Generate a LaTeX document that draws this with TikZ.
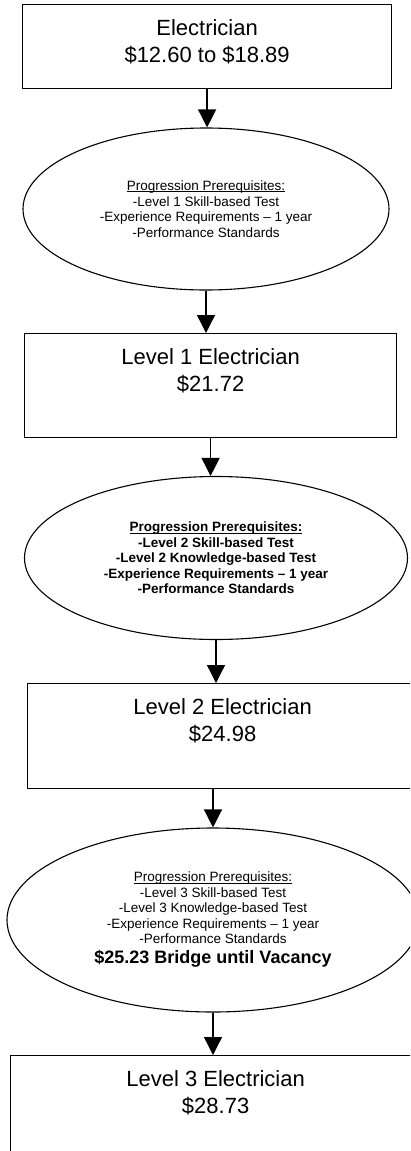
\documentclass[tikz,border=0pt]{standalone}
\usepackage{fontspec}
\setmainfont{Liberation Sans}
\usepackage{tikz}
\usetikzlibrary{arrows.meta, shapes.geometric}
\newcommand{\reqhead}[1]{\setbox0\hbox{#1}\rlap{\rule[-1.6pt]{\wd0}{0.8pt}}\box0}
\tikzstyle{jobbox}=[rectangle, draw=black, line width=1.2pt, inner sep=0pt, anchor=north west]
\tikzstyle{jobtext}=[align=center, inner sep=0pt, anchor=north, font=\fontsize{22}{27}\selectfont]
\tikzstyle{reqoval}=[ellipse, draw=black, line width=1.1pt, align=center, inner sep=0pt, font=\fontsize{13.5}{15.5}\selectfont]
\tikzstyle{flow}=[draw=black, line width=1.3pt, -{Triangle[width=18pt,length=18pt]}]

\begin{document}
\begin{tikzpicture}[x=1pt, y=-1pt]
		\useasboundingbox (0,0) rectangle (410,1151);
		\clip (0,0) rectangle (410,1151);
		% job boxes
		\node[jobbox, minimum width=369, minimum height=84](job1) at (22,4) {};
		\node[jobbox, minimum width=372, minimum height=104](job2) at (24,333) {};
		\node[jobbox, minimum width=390, minimum height=105](job3) at (27,683) {};
		\node[jobbox, minimum width=410, minimum height=130](job4) at (10,1055) {};
		\node[jobtext](name1) at ([yshift=-15pt]job1.north) {Electrician\\\$12.60 to \$18.89};
		\node[jobtext](name2) at ([yshift=-15pt]job2.north) {Level 1 Electrician\\\$21.72};
		\node[jobtext](name3) at ([yshift=-15pt]job3.north) {Level 2 Electrician\\\$24.98};
		\node[jobtext](name4) at ([yshift=-15pt]job4.north) {Level 3 Electrician\\\$28.73};
		% prerequisites
		\node[reqoval, minimum width=366, minimum height=162](req1) at (206,209)
			{\reqhead{Progression Prerequisites:}\\-Level 1 Skill-based Test\\-Experience Requirements -- 1 year\\-Performance Standards};
		\node[reqoval, minimum width=383, minimum height=163, font=\fontsize{13.5}{15.5}\selectfont\bfseries](req2) at (216,558)
			{\reqhead{Progression Prerequisites:}\\-Level 2 Skill-based Test\\-Level 2 Knowledge-based Test\\-Experience Requirements -- 1 year\\-Performance Standards};
		\node[reqoval, minimum width=412, minimum height=184](req3) at (213,920)
			{\reqhead{Progression Prerequisites:}\\-Level 3 Skill-based Test\\-Level 3 Knowledge-based Test\\-Experience Requirements -- 1 year\\-Performance Standards\\[4.5pt]{\fontsize{18}{19}\selectfont\bfseries \$25.23 Bridge until Vacancy}};
		\path[flow]
			(job1.south) -- (job1.south |- req1.north);
		\path[flow]
			(req1.south) -- (req1.south |- job2.north);
		\path[flow]
			(job2.south) -- (job2.south |- req2.north);
		\path[flow]
			(req2.south) -- (req2.south |- job3.north);
		\path[flow]
			(job3.south -| req3.north) -- (req3.north);
		\path[flow]
			(req3.south) -- (req3.south |- job4.north);
	\end{tikzpicture}
\end{document}
